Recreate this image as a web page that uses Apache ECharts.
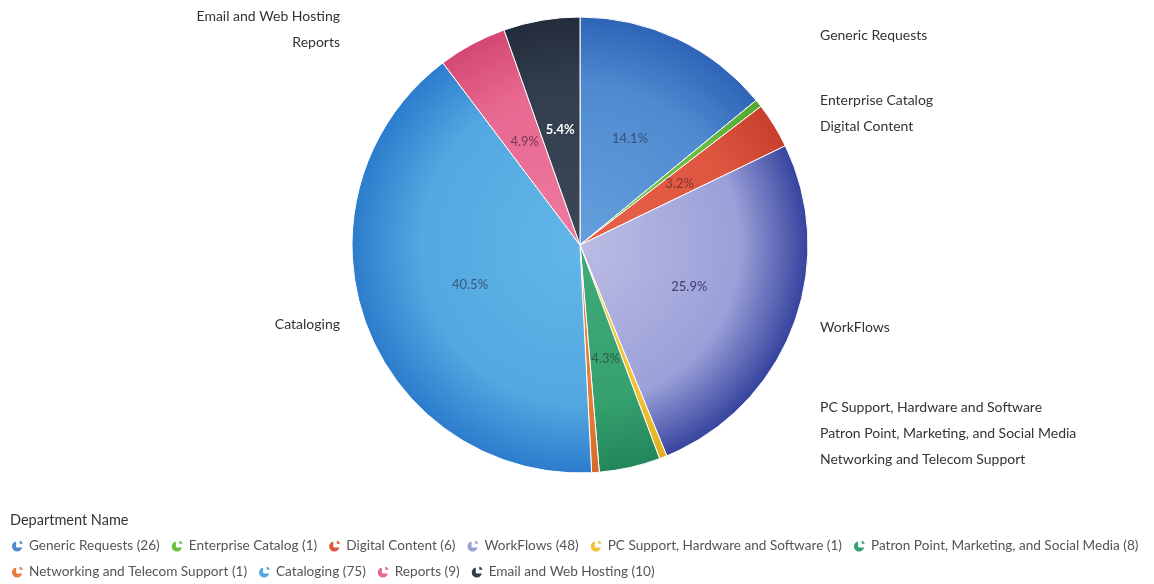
<!DOCTYPE html>
<html>
<head>
<meta charset="utf-8">
<script src="https://cdn.jsdelivr.net/npm/echarts@6/dist/echarts.min.js"></script>
<style>
html,body{margin:0;padding:0;background:#fff;}
#c{width:1154px;height:584px;}
</style>
</head>
<body>
<div id="c"></div>
<script>
const categories = ['Generic Requests','Enterprise Catalog','Digital Content','WorkFlows','PC Support, Hardware and Software','Patron Point, Marketing, and Social Media','Networking and Telecom Support','Cataloging','Reports','Email and Web Hosting'];
const values = [26,1,6,48,1,8,1,75,9,10];
const innerColors = ['#64a0dc','#74c64a','#e8624a','#bcbce4','#f4ca40','#40aa78','#ec8440','#62b6e8','#ee7aa0','#3c4858'];
const midColors   = ['#4f8ad0','#68bc40','#de5540','#9aa0d8','#f0c238','#36a06e','#e67c3a','#52a8e0','#e86890','#323e4e'];
const outerColors = ['#2e64b6','#52a830','#c8402c','#36439e','#e2b020','#22865a','#d46a28','#2c7ccc','#d44872','#232c3a'];
const pctLabelColors = ['#3c4e78','#333','#7e3a30','#3e4070','#333','#2e5e48','#333','#3a5a80','#74384c','#ffffff'];

// geometry / layout settings
const cx = 580, cy = 245, R = 228;
const labelR = R + 4, labelOffset = 12, labelGap = 26, labelMinY = 13, labelMaxY = 459;

const total = values.reduce((a,b)=>a+b,0);

// outside label placement derived from slice mid angles
const mids = [];
(function(){ let acc = 0; values.forEach(v=>{ mids.push((acc + v/2)/total*2*Math.PI); acc += v; }); })();
const labelPos = mids.map(a => ({right: Math.sin(a) >= 0, y: cy - Math.cos(a)*labelR}));
function resolveSide(isRight){
  const idx = labelPos.map((p,i)=>i).filter(i=>labelPos[i].right===isRight)
    .sort((a,b)=>labelPos[a].y-labelPos[b].y);
  const ys = idx.map(i=>labelPos[i].y);
  for (let k=1;k<ys.length;k++) ys[k] = Math.max(ys[k], ys[k-1]+labelGap);
  const L = ys.length-1;
  ys[L] = Math.min(ys[L], labelMaxY);
  for (let k=L-1;k>=0;k--) ys[k] = Math.min(ys[k], ys[k+1]-labelGap);
  ys[0] = Math.max(ys[0], labelMinY);
  for (let k=1;k<ys.length;k++) ys[k] = Math.max(ys[k], ys[k-1]+labelGap);
  idx.forEach((i,k)=>labelPos[i].y = ys[k]);
}
resolveSide(true); resolveSide(false);

function grad(i){
  return {type:'radial', x:cx, y:cy, r:R, global:true,
    colorStops:[{offset:0,color:innerColors[i]},{offset:0.7,color:midColors[i]},{offset:1,color:outerColors[i]}]};
}
const pieData = categories.map((n,i)=>({name:n, value:values[i], itemStyle:{color:grad(i)}}));
const pctData = categories.map((n,i)=>({name:n, value:values[i],
  label:{color:pctLabelColors[i], fontWeight: i===9 ? 'bold' : 'normal'}}));

const valueMap = {};
categories.forEach((n,i)=>valueMap[n]=values[i]);

const pieIcon = 'path://M9,1 A8,8 0 1,0 17,9 L9,9 Z M11,0 L11,7 L18,7 A7,7 0 0,0 11,0 Z';

const chart = echarts.init(document.getElementById('c'), null, {renderer:'canvas'});
chart.setOption({
  animation:false,
  textStyle:{fontFamily:'Lato, "Open Sans", sans-serif'},
  color: midColors,
  title:{text:'Department Name', left:10, top:513, padding:0,
    textStyle:{fontSize:14.5, fontWeight:'normal', color:'#333', fontFamily:'Lato'}},
  legend:{
    left:10, top:538, right:2, padding:0, itemGap:10, itemWidth:13, itemHeight:13,
    icon:pieIcon,
    data: categories.map((n,i)=>({name:n, itemStyle:{color:midColors[i]}})),
    formatter: n => n + ' (' + valueMap[n] + ')',
    textStyle:{fontSize:13.6, color:'#555', lineHeight:16, fontFamily:'Lato'}
  },
  series:[
    {
      type:'pie', left:0, top:0, width:1154, height:480,
      center:[cx,cy], radius:[0,R], startAngle:90, clockwise:true,
      itemStyle:{borderColor:'#fff', borderWidth:1},
      label:{show:true, position:'outside', formatter:'{b}',
        fontSize:14, color:'#333', fontFamily:'Lato'},
      labelLine:{show:false},
      labelLayout: function(p){
        const lp = labelPos[p.dataIndex];
        return {
          x: lp.right ? cx + R + labelOffset : cx - R - labelOffset,
          y: lp.y,
          align: lp.right ? 'left' : 'right',
          verticalAlign: 'middle'
        };
      },
      emphasis:{disabled:true},
      data: pieData
    },
    {
      type:'pie', left:0, top:0, width:1154, height:480, silent:true,
      center:[cx,cy], radius:[0,R], startAngle:90, clockwise:true,
      itemStyle:{color:'rgba(0,0,0,0)', borderWidth:0},
      label:{show:true, position:'inside', fontSize:13, fontFamily:'Lato',
        formatter: p => (p.value/total*100) >= 3 ? (p.value/total*100).toFixed(1)+'%' : ''},
      labelLine:{show:false},
      emphasis:{disabled:true},
      data: pctData
    }
  ]
});
</script>
</body>
</html>
